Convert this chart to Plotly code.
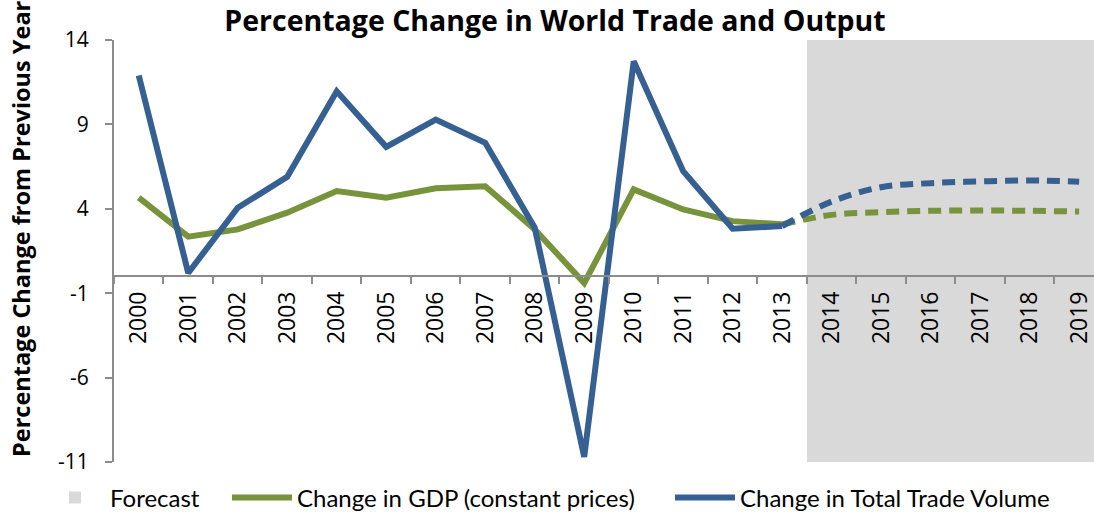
import plotly.graph_objects as go

# ---- data ----
years_actual = [str(y) for y in range(2000, 2014)]
years_forecast = [str(y) for y in range(2014, 2020)]
years_all = years_actual + years_forecast

gdp_actual = [4.66, 2.35, 2.78, 3.77, 5.05, 4.66, 5.22, 5.34, 2.78, -0.4, 5.15, 3.96, 3.27, 3.08]
gdp_forecast = [3.64, 3.80, 3.88, 3.90, 3.88, 3.84]
trade_actual = [11.9, 0.2, 4.06, 5.9, 10.96, 7.67, 9.29, 7.91, 2.88, -10.7, 12.74, 6.23, 2.82, 2.98]
trade_forecast = [4.43, 5.28, 5.52, 5.62, 5.68, 5.60]

y_ticks = [-11, -6, -1, 4, 9, 14]
y_tick_text = [str(v) for v in y_ticks]
y_min, y_max = -11, 14

BLUE = "#376092"
GREEN = "#77933C"
GREY = "#D9D9D9"
AXIS = "#8C8C8C"
FONT = "Open Sans"
LEGEND_FONT = "Lato"

W, H = 1094, 514
ML, MR, MT, MB = 114, 0, 40, 52
plot_w = W - ML - MR
plot_h = H - MT - MB

fig = go.Figure()

# actual lines
fig.add_trace(go.Scatter(
    x=years_actual, y=gdp_actual, mode="lines", name="Change in GDP (constant prices)",
    line=dict(color=GREEN, width=6), legend="legend2",
))
fig.add_trace(go.Scatter(
    x=years_actual, y=trade_actual, mode="lines", name="Change in Total Trade Volume",
    line=dict(color=BLUE, width=6), legend="legend3",
))
# forecast dashed lines
fig.add_trace(go.Scatter(
    x=years_actual[-1:] + years_forecast, y=gdp_actual[-1:] + gdp_forecast, mode="lines",
    line=dict(color=GREEN, width=6, dash="13px,8px", shape="spline"), showlegend=False,
))
fig.add_trace(go.Scatter(
    x=years_actual[-1:] + years_forecast, y=trade_actual[-1:] + trade_forecast, mode="lines",
    line=dict(color=BLUE, width=6, dash="13px,8px", shape="spline"), showlegend=False,
))

# forecast shading (category index boundaries derived from the data)
fig.add_shape(
    type="rect", xref="x", yref="y",
    x0=len(years_actual) - 0.5, x1=len(years_all) - 0.5,
    y0=y_min, y1=y_max,
    fillcolor=GREY, line=dict(width=0), layer="below",
    showlegend=True, name="Forecast", legend="legend",
)


def px_x(px):
    return (px - ML) / plot_w


def px_y(py):
    return (H - MB - py) / plot_h


legend_common = dict(orientation="h", xanchor="left", yanchor="middle",
                      xref="container", yref="container",
                      y=1 - 498 / H, font=dict(size=24, family=LEGEND_FONT, color="black"),
                      itemwidth=60, bgcolor="rgba(0,0,0,0)", borderwidth=0)

fig.update_layout(
    width=W, height=H,
    margin=dict(l=ML, r=MR, t=MT, b=MB),
    paper_bgcolor="white", plot_bgcolor="white",
    font=dict(family=FONT, color="black"),
    title=dict(text="<b>Percentage Change in World Trade and Output</b>",
               font=dict(size=28.5, family=FONT, color="black"),
               x=555 / W, xref="container", xanchor="center",
               y=1 - 21 / H, yref="container", yanchor="middle"),
    showlegend=True,
    legend=dict(x=40 / W, **legend_common),
    legend2=dict(x=227 / W, **legend_common),
    legend3=dict(x=670 / W, **legend_common),
    xaxis=dict(type="category", categoryorder="array", categoryarray=years_all,
               range=[-0.5, 19.3], anchor="free", position=(0 - y_min) / (y_max - y_min),
               showline=True, linecolor=AXIS, linewidth=2,
               ticks="outside", tickson="boundaries", ticklen=7, tickcolor=AXIS, tickwidth=2,
               ticklabelstandoff=5,
               tickangle=-90, tickfont=dict(size=23, family=FONT, color="black"),
               showgrid=False, zeroline=False, automargin=False),
    yaxis=dict(range=[y_min, y_max], tickvals=y_ticks, ticktext=y_tick_text,
               showline=True, linecolor=AXIS, linewidth=2,
               ticks="outside", ticklen=7, tickcolor=AXIS, tickwidth=2,
               ticklabelstandoff=12,
               tickfont=dict(size=21, family=FONT, color="black"),
               showgrid=False, zeroline=False, automargin=False),
    annotations=[dict(text="<b>Percentage Change from Previous Year</b>", textangle=-90,
                      xref="paper", yref="paper",
                      x=px_x(21), y=px_y(229),
                      xanchor="center", yanchor="middle", showarrow=False,
                      font=dict(size=23.5, family=FONT, color="black"))],
)

fig.write_html("out.html", config={"displayModeBar": False},
               post_script="document.body.style.margin='0';")
